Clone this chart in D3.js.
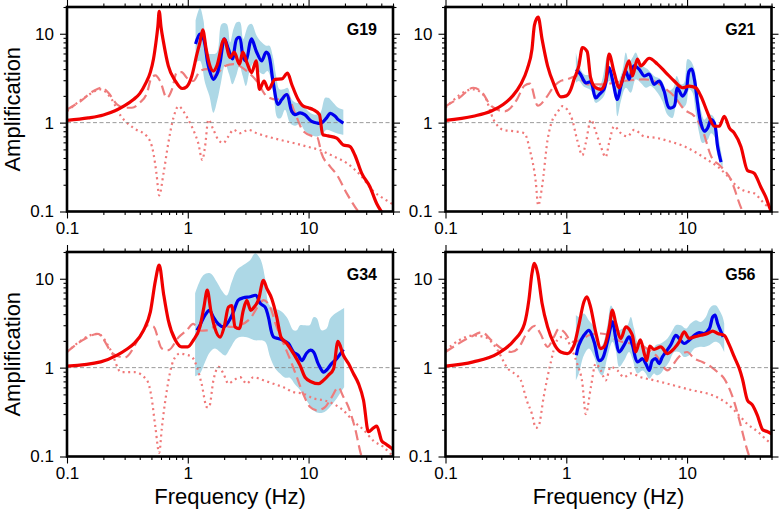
<!DOCTYPE html>
<html><head><meta charset="utf-8">
<script src="https://cdn.jsdelivr.net/npm/d3@7"></script>
<style>
body{margin:0;background:#fff}
svg{display:block}
text{font-family:"Liberation Sans",Arial,Helvetica,sans-serif}
</style>
</head><body>
<svg id="chart" width="780" height="517"></svg>
<script>
// ---------- tick values / labels ----------
const xTickMajor = [0.1, 1, 10];
const xTickLabels = ["0.1", "1", "10"];
const xTickMinor = [0.2,0.3,0.4,0.5,0.6,0.7,0.8,0.9,2,3,4,5,6,7,8,9,20,30,40,50];
const yTickMajor = [0.1, 1, 10];
const yTickLabels = ["0.1", "1", "10"];
const yTickMinor = [0.2,0.3,0.4,0.5,0.6,0.7,0.8,0.9,2,3,4,5,6,7,8,9,20];
const stations = ["G19", "G21", "G34", "G56"];

// ---------- G19 ----------
const g19Red = [[0.1,1.06],[0.15,1.13],[0.2,1.22],[0.25,1.36],[0.3,1.55],[0.355,1.82],[0.4,2.12],[0.45,2.8],[0.49,3.7],[0.52,5.2],[0.545,8],[0.565,12],[0.58,17.9],[0.6,12],[0.63,8.0],[0.69,4.35],[0.79,2.94],[0.9,2.42],[0.98,2.54],[1.08,3.35],[1.19,5.9],[1.26,8.0],[1.33,11.1],[1.42,6.7],[1.51,4.55],[1.63,3.8],[1.74,4.35],[2.0,8.7],[2.24,5.4],[2.42,6.2],[2.68,4.55],[2.85,6.2],[3.08,4.75],[3.38,3.66],[3.68,4.96],[3.92,2.37],[4.28,2.94],[4.65,2.37],[5.28,3.07],[6.0,3.1],[6.7,3.6],[7.25,2.7],[8.2,1.82],[9.05,1.53],[9.95,1.47],[10.9,1.4],[12.3,1.23],[13.1,0.73],[14.5,0.71],[17.1,0.67],[19.4,0.56],[22.0,0.54],[24.2,0.43],[27.5,0.27],[32.2,0.19],[36.6,0.123],[40.2,0.099],[45,0.08]];
const g19Blue = [[1.16,7.66],[1.26,9.9],[1.35,8.75],[1.48,4.35],[1.63,3.07],[1.74,3.5],[1.85,4.75],[2.01,8.75],[2.17,6.7],[2.34,5.2],[2.54,8.75],[2.68,9.1],[2.88,5.4],[3.03,4.96],[3.28,8.0],[3.38,8.75],[3.72,6.2],[4.09,4.96],[4.44,6.2],[4.65,5.9],[5.1,2.8],[5.6,1.6],[6.0,1.82],[6.6,2.07],[7.25,1.34],[7.7,1.23],[8.5,1.29],[9.3,1.23],[10.6,1.03],[11.7,0.99],[12.8,0.99],[14.1,1.13],[15.1,1.27],[16.6,1.18],[17.6,1.08],[19.4,0.99]];
const g19Upper = [[1.16,14.1],[1.26,19.5],[1.35,14.1],[1.44,6.16],[1.58,5.9],[1.74,6.16],[1.91,12.9],[2.1,12.9],[2.24,8.0],[2.39,11.3],[2.54,13.5],[2.71,13.5],[2.88,8.75],[3.17,12.4],[3.38,12.9],[3.72,9.5],[4.09,8.0],[4.44,7.35],[4.74,7.35],[5.05,5.65],[5.39,3.35],[5.74,2.37],[6.2,2.37],[6.7,2.47],[7.25,1.82],[7.87,1.67],[8.5,1.67],[9.35,1.47],[10.3,1.29],[11.3,1.23],[12.5,1.29],[13.7,1.9],[14.6,1.9],[16.0,1.67],[17.6,1.47],[19.4,1.4]];
const g19Lower = [[1.16,4.75],[1.26,4.96],[1.39,2.8],[1.51,1.99],[1.63,1.29],[1.76,1.82],[1.88,2.8],[2.04,4.55],[2.2,3.5],[2.34,2.7],[2.51,3.35],[2.68,4.35],[2.85,3.35],[3.03,2.58],[3.28,4.0],[3.54,4.75],[3.86,3.8],[4.23,3.5],[4.56,3.8],[4.86,3.2],[5.18,1.82],[5.53,1.13],[5.9,1.13],[6.38,1.4],[7.03,0.99],[7.72,0.92],[8.5,0.97],[9.35,0.8],[10.4,0.73],[11.5,0.7],[12.8,0.73],[14.1,0.83],[15.5,0.8],[17.1,0.76],[19.4,0.73]];
const g19Dash = [[0.1,1.4],[0.13,1.75],[0.166,2.27],[0.195,2.47],[0.22,2.17],[0.26,1.6],[0.3,1.47],[0.345,1.47],[0.4,1.67],[0.46,2.17],[0.5,3.2],[0.54,3.4],[0.59,2.94],[0.67,1.9],[0.74,2.37],[0.81,3.66],[0.89,3.7],[0.98,3.2],[1.11,2.94],[1.26,3.8],[1.44,4.0],[1.63,3.35],[2.04,4.35],[2.39,4.55],[3.08,3.8],[3.72,2.94],[4.5,1.99],[5.44,1.82],[6.6,2.07],[7.7,1.29],[9.05,0.8],[10.9,0.7],[11.8,0.68],[12.8,0.45],[15.1,0.32],[17.1,0.26],[20.7,0.16],[25.8,0.1],[30,0.08]];
const g19Dot = [[0.1,1.34],[0.146,1.99],[0.19,2.37],[0.23,1.9],[0.28,1.18],[0.355,0.87],[0.46,0.7],[0.52,0.45],[0.55,0.27],[0.58,0.152],[0.63,0.27],[0.69,0.59],[0.76,1.13],[0.84,1.53],[0.92,1.34],[1.01,1.08],[1.11,0.83],[1.22,0.59],[1.32,0.38],[1.39,0.54],[1.48,1.08],[1.63,0.83],[1.79,0.64],[1.97,0.59],[2.17,0.7],[2.39,0.83],[2.71,0.76],[3.18,0.83],[3.72,0.76],[4.5,0.7],[5.8,0.64],[7.5,0.59],[9.6,0.54],[12.4,0.49],[16,0.42],[20.7,0.35],[26.6,0.26],[34.3,0.17],[44,0.134],[50,0.12]];

// ---------- G21 ----------
const g21Red = [[0.1,1.06],[0.17,1.18],[0.24,1.35],[0.3,1.6],[0.36,2.0],[0.42,2.7],[0.475,4.0],[0.52,6.7],[0.545,12.5],[0.585,15.4],[0.63,8.7],[0.7,4.35],[0.79,2.7],[0.9,1.95],[1.0,2.0],[1.09,2.37],[1.16,3.07],[1.27,4.35],[1.36,7.0],[1.49,6.3],[1.59,3.2],[1.75,2.47],[1.93,2.37],[2.12,2.94],[2.26,5.9],[2.49,3.66],[2.74,2.47],[3.01,3.5],[3.31,4.96],[3.53,3.35],[3.88,5.2],[4.14,4.35],[4.86,5.3],[5.69,4.55],[6.67,3.66],[7.82,2.94],[9.16,2.47],[10.4,2.58],[11.8,2.47],[13.0,1.99],[14.8,1.29],[16.8,0.91],[18.5,0.91],[20.3,1.18],[22.4,0.87],[24.6,0.76],[27.9,0.54],[31.6,0.29],[35.9,0.27],[40.7,0.19],[44.8,0.146],[49.3,0.103],[52,0.09]];
const g21Blue = [[1.21,4.0],[1.31,3.5],[1.45,2.8],[1.59,2.87],[1.75,1.9],[1.87,2.07],[2.05,2.37],[2.26,4.16],[2.41,3.07],[2.65,1.82],[2.83,2.58],[3.11,3.8],[3.31,3.07],[3.64,4.35],[4.0,4.0],[4.41,3.35],[4.86,3.5],[5.33,2.7],[5.87,2.94],[6.45,2.27],[7.1,1.47],[7.82,1.53],[8.3,2.47],[9.16,1.99],[9.8,2.27],[10.4,3.8],[10.9,4.0],[11.5,3.07],[12.2,1.67],[13.0,0.99],[13.9,0.8],[14.8,0.87],[15.8,1.08],[16.8,0.99],[17.9,0.54],[19.1,0.36]];
const g21Upper = [[1.2,6.16],[1.27,4.55],[1.4,3.5],[1.59,3.35],[1.75,2.37],[1.93,2.7],[2.19,5.65],[2.33,3.66],[2.57,2.58],[2.91,3.8],[3.11,6.16],[3.31,4.75],[3.53,5.4],[3.76,6.16],[4.14,4.55],[4.7,4.0],[5.33,3.35],[6.06,3.07],[6.88,2.27],[7.7,2.47],[8.2,3.35],[8.9,2.7],[9.45,2.8],[10.1,5.2],[10.7,4.96],[11.5,4.0],[12.2,2.37],[13.0,1.4],[13.9,1.08],[14.8,1.18],[15.8,1.23],[16.8,1.13],[17.9,0.76],[19.7,0.38]];
const g21Lower = [[1.2,2.8],[1.27,2.94],[1.4,2.54],[1.59,2.33],[1.75,1.67],[1.87,1.74],[2.05,1.99],[2.26,2.94],[2.49,2.37],[2.65,1.18],[2.83,1.74],[3.11,2.47],[3.42,2.17],[3.76,3.07],[4.14,2.8],[4.55,2.47],[5.0,2.58],[5.69,2.17],[6.25,1.74],[6.88,1.23],[7.58,1.13],[8.3,1.74],[9.16,1.47],[9.8,1.6],[10.4,2.37],[11.1,2.17],[11.8,1.29],[12.6,0.76],[13.4,0.59],[14.8,0.64],[15.8,0.76],[16.8,0.7],[17.9,0.42],[19.7,0.31]];
const g21Dash = [[0.1,1.53],[0.13,1.9],[0.17,2.47],[0.2,2.2],[0.24,1.53],[0.31,1.34],[0.39,1.82],[0.45,2.6],[0.5,2.75],[0.58,1.55],[0.68,1.9],[0.78,2.5],[0.9,2.95],[1.02,3.07],[1.23,3.35],[1.49,2.7],[2.0,2.7],[3.0,2.94],[4.4,3.07],[5.3,2.94],[6.45,2.47],[7.8,1.99],[9.5,1.4],[11.5,1.18],[13.4,0.83],[15.8,0.42],[19.1,0.32],[23,0.23],[28,0.11],[30,0.09]];
const g21Dot = [[0.1,1.47],[0.17,2.37],[0.21,1.99],[0.25,1.08],[0.3,0.83],[0.37,0.8],[0.45,0.76],[0.5,0.49],[0.56,0.21],[0.585,0.117],[0.63,0.19],[0.7,0.64],[0.77,1.08],[0.84,1.29],[0.93,1.53],[1.02,1.4],[1.12,1.08],[1.23,0.64],[1.36,0.43],[1.45,0.59],[1.6,1.08],[1.75,0.8],[1.93,0.54],[2.12,0.41],[2.26,0.59],[2.49,0.91],[2.83,0.76],[3.21,0.7],[3.64,0.83],[4.41,0.7],[5.69,0.67],[7.3,0.61],[9.5,0.54],[12.2,0.45],[14.8,0.38],[17.9,0.32],[21.7,0.25],[26,0.19],[30,0.17],[36,0.16],[43.5,0.123],[50,0.105]];

// ---------- G34 ----------
const g34Red = [[0.1,1.04],[0.19,1.16],[0.26,1.38],[0.31,1.6],[0.36,1.87],[0.43,2.63],[0.49,4.24],[0.54,9.6],[0.58,14.2],[0.63,6.8],[0.69,3.4],[0.79,2.03],[0.89,1.71],[1.0,1.71],[1.11,2.03],[1.26,2.87],[1.36,4.8],[1.45,7.45],[1.55,4.4],[1.68,2.75],[1.85,2.2],[2.0,2.87],[2.17,4.8],[2.31,5.0],[2.46,2.87],[2.67,2.75],[2.88,4.4],[3.08,5.7],[3.32,4.4],[3.54,4.8],[3.84,5.75],[4.23,9.6],[4.51,7.8],[4.95,6.0],[5.45,3.7],[5.9,2.22],[6.6,1.87],[7.5,1.44],[8.5,1.06],[9.35,0.78],[10.6,0.69],[12.1,0.66],[13.3,0.72],[14.6,0.82],[16.1,0.97],[17.5,1.97],[19.4,1.38],[21.4,1.11],[23.5,0.86],[25.9,0.66],[28.5,0.43],[31.3,0.19],[34.5,0.21],[36.7,0.22],[40.3,0.15],[43,0.14],[47.4,0.127],[50,0.12]];
const g34Blue = [[1.19,2.63],[1.26,3.0],[1.39,3.9],[1.51,4.4],[1.63,3.7],[1.79,3.1],[1.97,2.87],[2.17,3.27],[2.39,4.24],[2.62,5.75],[2.88,6.1],[3.28,6.27],[3.68,6.5],[3.97,5.3],[4.37,4.8],[4.65,3.7],[5.12,2.22],[5.6,2.13],[6.2,2.03],[6.8,1.87],[7.5,1.5],[8.2,1.38],[8.8,1.2],[9.65,1.46],[10.4,1.57],[11.0,1.5],[12.0,1.11],[13.3,0.89],[14.1,0.94],[15.5,1.11],[17.1,1.26],[18.8,1.5],[19.4,1.6]];
const g34Upper = [[1.15,6.8],[1.35,11],[1.53,11.5],[1.74,9.2],[1.91,7.4],[2.1,6.5],[2.31,9.2],[2.54,12.5],[2.88,14.3],[3.28,16.2],[3.6,19.3],[3.97,16.9],[4.37,10.1],[4.65,5.3],[5.12,4.6],[5.8,4.4],[6.6,3.7],[7.5,2.63],[8.0,2.63],[8.5,3.0],[9.35,3.0],[10.2,3.0],[11.0,3.7],[11.7,3.6],[12.8,2.63],[14.1,2.75],[15.1,3.56],[16.6,4.06],[18.2,4.4],[19.7,4.7]];
const g34Lower = [[1.15,0.8],[1.26,0.86],[1.39,1.16],[1.53,1.5],[1.68,1.64],[1.85,1.5],[2.04,1.37],[2.24,1.64],[2.54,2.13],[2.88,2.22],[3.28,2.13],[3.6,2.03],[3.97,2.03],[4.37,1.95],[4.8,1.32],[5.3,0.98],[5.8,0.86],[6.4,0.77],[7.0,0.77],[7.7,0.65],[8.5,0.56],[9.35,0.45],[10.2,0.38],[11.0,0.33],[12.0,0.31],[13.0,0.31],[14.1,0.33],[15.5,0.38],[17.1,0.45],[18.8,0.55],[19.7,0.6]];
const g34Dash = [[0.1,1.5],[0.14,2.1],[0.18,2.4],[0.24,1.44],[0.3,1.3],[0.4,2.2],[0.47,3.0],[0.52,2.9],[0.61,1.64],[0.69,1.57],[0.84,2.2],[0.98,2.63],[1.11,3.1],[1.26,2.6],[1.44,2.63],[1.85,3.1],[2.24,2.87],[2.71,3.0],[3.28,3.56],[3.97,5.3],[4.23,5.75],[4.8,4.8],[5.45,2.87],[6.2,1.87],[7.1,1.2],[8.0,0.78],[9.0,0.51],[10.3,0.36],[11.7,0.33],[13.7,0.36],[15.6,0.47],[17.6,0.6],[19.4,0.47],[21.4,0.36],[24.2,0.21],[27.5,0.1],[30,0.08]];
const g34Dot = [[0.1,1.5],[0.18,2.4],[0.23,1.57],[0.28,0.89],[0.36,0.89],[0.46,0.72],[0.5,0.47],[0.54,0.21],[0.58,0.11],[0.61,0.21],[0.67,0.55],[0.76,1.2],[0.86,1.44],[0.96,1.4],[1.08,1.32],[1.19,1.02],[1.3,0.66],[1.44,0.36],[1.5,0.36],[1.63,0.72],[1.8,1.02],[1.97,0.86],[2.17,0.66],[2.39,0.72],[2.71,0.78],[3.08,0.66],[3.49,0.78],[4.23,0.72],[5.1,0.66],[6.2,0.6],[7.5,0.53],[9.0,0.51],[11,0.45],[13.3,0.43],[16.1,0.39],[19.4,0.33],[23.5,0.25],[28.5,0.2],[34.5,0.15],[41.7,0.128],[47.4,0.108],[50,0.1]];

// ---------- G56 ----------
const g56Red = [[0.1,1.04],[0.17,1.16],[0.27,1.44],[0.37,2.03],[0.45,3.1],[0.49,5.75],[0.52,11.5],[0.545,14.9],[0.58,11.5],[0.63,5.3],[0.7,2.87],[0.79,1.87],[0.9,1.5],[1.02,1.44],[1.16,1.79],[1.27,3.0],[1.4,5.5],[1.48,6.27],[1.59,4.8],[1.75,2.52],[1.93,1.64],[2.05,1.71],[2.26,2.75],[2.41,4.43],[2.57,3.14],[2.83,2.13],[3.11,2.87],[3.42,2.52],[3.53,2.3],[3.76,1.5],[4.1,2.05],[4.45,1.4],[4.64,1.2],[4.9,1.75],[5.33,1.6],[6.06,1.71],[6.88,1.44],[7.82,1.64],[8.6,1.95],[9.45,2.52],[10.4,2.13],[11.5,2.22],[13.0,2.31],[14.8,2.42],[16.3,2.57],[17.9,2.42],[20.3,2.31],[22.4,1.79],[24.6,1.32],[27.1,0.97],[28.7,0.75],[31.6,0.43],[34.7,0.38],[38.2,0.29],[42.3,0.2],[46.4,0.19],[50,0.18]];
const g56Blue = [[1.21,1.38],[1.27,1.79],[1.4,2.31],[1.54,2.63],[1.7,1.95],[1.87,1.2],[1.99,1.26],[2.19,1.95],[2.41,3.27],[2.57,2.13],[2.74,1.5],[3.01,1.79],[3.31,2.22],[3.53,1.79],[3.88,1.16],[4.27,1.26],[4.55,1.11],[4.86,0.93],[5.16,1.2],[5.5,1.26],[5.87,1.11],[6.25,1.32],[6.67,1.5],[7.3,1.79],[8.07,2.31],[8.6,2.13],[9.45,1.87],[10.4,2.03],[11.5,2.31],[12.6,2.48],[13.9,2.42],[15.3,2.75],[16.3,3.72],[17.0,3.9],[17.9,3.14],[19.1,2.52],[19.9,2.22]];
const g56Upper = [[1.2,3.9],[1.27,3.72],[1.4,4.06],[1.54,3.4],[1.7,2.87],[1.87,1.71],[1.99,1.8],[2.19,3.0],[2.34,5.0],[2.49,4.24],[2.65,2.63],[2.92,2.75],[3.21,3.0],[3.42,3.72],[3.64,2.75],[4.0,1.79],[4.41,1.79],[5.0,1.5],[5.5,1.79],[6.06,1.87],[6.88,2.13],[7.58,2.63],[8.07,3.0],[8.9,3.0],[9.8,2.75],[10.7,3.14],[11.8,3.42],[13.0,3.27],[14.3,3.72],[15.3,4.6],[16.3,5.0],[17.4,5.0],[18.5,4.43],[19.7,3.72],[20.3,3.14]];
const g56Lower = [[1.2,0.72],[1.27,0.86],[1.4,1.38],[1.54,1.64],[1.7,1.32],[1.87,0.89],[1.99,0.82],[2.19,1.32],[2.41,1.95],[2.57,1.57],[2.74,1.02],[3.01,1.2],[3.31,1.5],[3.53,1.26],[3.88,0.86],[4.27,0.93],[4.55,0.86],[4.86,0.75],[5.33,0.86],[5.6,0.82],[6.06,0.86],[6.45,0.97],[7.1,1.16],[7.82,1.5],[8.6,1.5],[9.45,1.32],[10.4,1.38],[11.5,1.64],[12.6,1.71],[13.9,1.71],[15.3,1.79],[17.0,1.95],[18.5,1.87],[20.3,1.5]];
const g56Dash = [[0.1,1.5],[0.16,2.2],[0.2,2.5],[0.24,2.03],[0.3,1.6],[0.35,1.5],[0.4,1.65],[0.47,2.42],[0.55,2.95],[0.61,2.42],[0.7,1.71],[0.79,2.22],[0.87,2.75],[0.96,2.52],[1.12,1.95],[1.32,2.03],[1.54,2.31],[1.93,2.42],[2.26,2.31],[2.65,2.03],[3.42,1.87],[4.41,1.71],[5.69,1.32],[6.88,0.93],[7.58,1.06],[8.3,1.26],[10.0,1.5],[11.5,1.26],[13.4,1.16],[15.8,1.02],[17.9,0.89],[20.3,0.75],[22.4,0.58],[24.6,0.41],[27.9,0.22],[30.7,0.133],[32.8,0.1],[34,0.09]];
const g56Dot = [[0.1,1.57],[0.17,2.3],[0.21,2.22],[0.27,1.57],[0.32,1.02],[0.42,0.72],[0.47,0.43],[0.52,0.3],[0.56,0.21],[0.59,0.22],[0.65,0.47],[0.74,1.11],[0.84,2.03],[0.93,2.22],[1.02,2.03],[1.12,1.57],[1.23,1.11],[1.36,0.66],[1.45,0.3],[1.6,0.61],[1.75,1.11],[1.93,0.93],[2.12,0.72],[2.33,1.02],[2.65,0.93],[3.0,0.78],[3.42,0.86],[4.14,0.78],[5.33,0.72],[6.88,0.66],[8.9,0.6],[11.5,0.55],[14.8,0.51],[18.5,0.45],[21.7,0.39],[26.3,0.3],[31.8,0.23],[38.5,0.19],[46.5,0.15],[50,0.14]];

const panelSeries = {
  G19: {red:g19Red, blue:g19Blue, upper:g19Upper, lower:g19Lower, dash:g19Dash, dot:g19Dot},
  G21: {red:g21Red, blue:g21Blue, upper:g21Upper, lower:g21Lower, dash:g21Dash, dot:g21Dot},
  G34: {red:g34Red, blue:g34Blue, upper:g34Upper, lower:g34Lower, dash:g34Dash, dot:g34Dot},
  G56: {red:g56Red, blue:g56Blue, upper:g56Upper, lower:g56Lower, dash:g56Dash, dot:g56Dot}
};

// ---------- layout ----------
const W = 326, H = 204.5;
const lefts = [67, 445.5], tops = [7, 252];
const FONT = '"Liberation Sans",Arial,Helvetica,sans-serif';

const svg = d3.select("#chart");
const x = d3.scaleLog().domain([0.1, 50]).range([0, W]);
const y = d3.scaleLog().domain([0.1, 20]).range([H, 0]);

const lineSharp = d3.line().x(d => x(d[0])).y(d => y(d[1])).curve(d3.curveMonotoneX);
const lineSmooth = d3.line().x(d => x(d[0])).y(d => y(d[1])).curve(d3.curveCatmullRom.alpha(0.5));

stations.forEach((name, i) => {
  const col = i % 2, row = Math.floor(i / 2);
  const s = panelSeries[name];
  const g = svg.append("g").attr("transform", `translate(${lefts[col]},${tops[row]})`);
  const clipId = "clip" + i;
  g.append("clipPath").attr("id", clipId).append("rect").attr("width", W).attr("height", H);
  const plot = g.append("g").attr("clip-path", `url(#${clipId})`);

  // band
  const up = lineSmooth(s.upper);
  const lo = lineSmooth(s.lower.slice().reverse());
  plot.append("path").attr("d", up + "L" + lo.slice(1) + "Z")
    .attr("fill", "#add8e6").attr("stroke", "none");

  // dotted
  plot.append("path").attr("d", lineSharp(s.dot)).attr("fill", "none")
    .attr("stroke", "#f07878").attr("stroke-width", 2.2).attr("stroke-dasharray", "2,3.6");
  // dashed
  plot.append("path").attr("d", lineSharp(s.dash)).attr("fill", "none")
    .attr("stroke", "#ee7c7c").attr("stroke-width", 2.2).attr("stroke-dasharray", "10,5");

  // reference line at 1
  plot.append("line").attr("x1", 0).attr("x2", W).attr("y1", y(1)).attr("y2", y(1))
    .attr("stroke", "#808080").attr("stroke-width", 0.8).attr("stroke-dasharray", "4,2.5");

  // blue
  plot.append("path").attr("d", lineSmooth(s.blue)).attr("fill", "none")
    .attr("stroke", "#0000ee").attr("stroke-width", 3.2).attr("stroke-linejoin", "round");
  // red
  plot.append("path").attr("d", lineSharp(s.red)).attr("fill", "none")
    .attr("stroke", "#f00000").attr("stroke-width", 3.2).attr("stroke-linejoin", "round");

  // axes
  const styleAxis = sel => {
    sel.select(".domain").remove();
    sel.selectAll(".tick line").attr("stroke", "#000").attr("stroke-width", 1.1);
    sel.selectAll("text").attr("font-size", 17).attr("font-family", FONT).attr("fill", "#000");
  };
  g.append("g").attr("transform", `translate(0,${H})`)
    .call(d3.axisBottom(x).tickValues(xTickMajor).tickSize(7).tickPadding(3.5).tickFormat((d, k) => xTickLabels[k]))
    .call(styleAxis);
  g.append("g").attr("transform", `translate(0,${H})`)
    .call(d3.axisBottom(x).tickValues(xTickMinor).tickSize(3.5).tickFormat(""))
    .call(styleAxis);
  g.append("g")
    .call(d3.axisTop(x).tickValues(xTickMajor).tickSize(7).tickFormat(""))
    .call(styleAxis);
  g.append("g")
    .call(d3.axisTop(x).tickValues(xTickMinor).tickSize(3.5).tickFormat(""))
    .call(styleAxis);
  g.append("g")
    .call(d3.axisLeft(y).tickValues(yTickMajor).tickSize(7).tickPadding(6).tickFormat((d, k) => yTickLabels[k]))
    .call(styleAxis);
  g.append("g")
    .call(d3.axisLeft(y).tickValues(yTickMinor).tickSize(3.5).tickFormat(""))
    .call(styleAxis);
  g.append("g").attr("transform", `translate(${W},0)`)
    .call(d3.axisRight(y).tickValues(yTickMajor).tickSize(7).tickFormat(""))
    .call(styleAxis);
  g.append("g").attr("transform", `translate(${W},0)`)
    .call(d3.axisRight(y).tickValues(yTickMinor).tickSize(3.5).tickFormat(""))
    .call(styleAxis);

  // frame
  g.append("rect").attr("width", W).attr("height", H)
    .attr("fill", "none").attr("stroke", "#000").attr("stroke-width", 2.6);

  // station label
  g.append("text").attr("x", W - 16).attr("y", 27.5).attr("text-anchor", "end")
    .attr("font-size", 16).attr("font-weight", "bold").attr("font-family", FONT).text(name);

  if (col === 0) {
    g.append("text").attr("transform", `translate(${20 - lefts[0]},${H / 2}) rotate(-90)`)
      .attr("text-anchor", "middle").attr("font-size", 22).attr("font-family", FONT)
      .text("Amplification");
  }
  if (row === 1) {
    g.append("text").attr("x", W / 2).attr("y", 504 - tops[1])
      .attr("text-anchor", "middle").attr("font-size", 22).attr("font-family", FONT)
      .text("Frequency (Hz)");
  }
});
</script>
</body></html>
